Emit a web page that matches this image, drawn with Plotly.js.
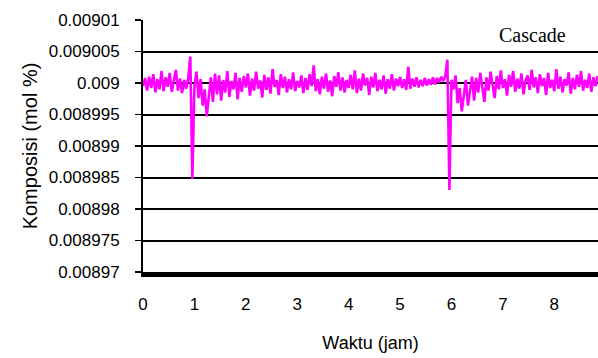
<!DOCTYPE html>
<html>
<head>
<meta charset="utf-8">
<script src="https://cdn.plot.ly/plotly-3.0.1.min.js"></script>
<style>html,body{margin:0;padding:0;background:#fff;}#chart{width:598px;height:358px;}</style>
</head>
<body>
<div id="chart"></div>
<script>
// Time step (jam) between samples, starting at 0
const timeStart = 0;
const timeStep = 0.04;

// Komposisi (mol %)
const komposisi = [
  0.0089995, 0.0090008, 0.0089988, 0.009001, 0.0089992, 0.0090014, 0.0089985, 0.0090006, 0.008999, 0.0090019,
  0.0089987, 0.0090009, 0.0089994, 0.0090016, 0.0089986, 0.0090004, 0.0090021, 0.0089988, 0.0090007, 0.0089984,
  0.0090005, 0.0089991,
  0.0090008, 0.0090042, 0.0089848, 0.0089995,
  0.0090018, 0.0089976, 0.0090006, 0.0089964, 0.008999, 0.0089947, 0.008998, 0.0090009, 0.008997, 0.0090015,
  0.0089982, 0.0090012, 0.0089972, 0.0090005, 0.0089985, 0.0090019, 0.0089978, 0.0090003, 0.008999, 0.0090016,
  0.0089974, 0.0090008, 0.0089986, 0.0090011, 0.0089993,
  0.0090015, 0.008998, 0.0090007, 0.0089988, 0.0090018, 0.0089991, 0.0090004, 0.0089977, 0.0090013, 0.0089989,
  0.0090009, 0.0089983, 0.0090022, 0.0089994, 0.0090005, 0.0089981, 0.0090014, 0.0089992, 0.009001, 0.0089985,
  0.0090006, 0.008999, 0.0090017, 0.0089987, 0.0090003,
  0.0089993, 0.0090012, 0.0089984, 0.0090008, 0.0089989, 0.0090014, 0.0089995, 0.0090028, 0.0089987, 0.0090006,
  0.0089982, 0.009001, 0.0089991, 0.0090015, 0.0089986, 0.0090004, 0.0089979, 0.0090011, 0.0089994, 0.0090017,
  0.0089988, 0.0090009, 0.0089985, 0.0090005, 0.0089992,
  0.0090013, 0.008999, 0.009002, 0.0089984, 0.0090007, 0.0089988, 0.0090015, 0.0089996, 0.0090008, 0.0089981,
  0.009001, 0.0089993, 0.0090016, 0.0089987, 0.0090005, 0.008999, 0.0090012, 0.0089983, 0.0090006, 0.0089991,
  0.0090014, 0.0089988, 0.0090007, 0.0089995, 0.009001,
  0.0089992, 0.0090006, 0.0089989, 0.0090026, 0.0089991, 0.0090007, 0.0089994, 0.0090009, 0.0089993, 0.0090005,
  0.0089995, 0.0090008, 0.0089996, 0.0090006, 0.0089997, 0.0090009, 0.0089998, 0.0090008, 0.0090001, 0.009001,
  0.0090003, 0.0090011,
  0.0090037, 0.008983, 0.0090005,
  0.008999, 0.0090012, 0.0089968, 0.0089992, 0.0089955, 0.008998, 0.0090005, 0.0089964, 0.0089988, 0.009001,
  0.0089972, 0.0090008, 0.0089985, 0.0090016, 0.0089993, 0.008997, 0.0090009, 0.0089988, 0.0090018, 0.0089995,
  0.0089976, 0.0090011, 0.008999, 0.009002, 0.0089992, 0.0090006, 0.008998, 0.0090013, 0.0089994, 0.0090019,
  0.0089986, 0.0090007, 0.0089991, 0.0090015, 0.0089982, 0.0090004, 0.0090012, 0.0089989, 0.0090021, 0.0089993,
  0.0090009, 0.0089984, 0.0090014, 0.0089995, 0.0090008, 0.0089981, 0.0090016, 0.0089992, 0.0090005, 0.0089987,
  0.0090022, 0.0089991, 0.009001, 0.0089985, 0.0090006, 0.0089996, 0.0090017, 0.0089983, 0.0090008, 0.008999,
  0.0090013, 0.0089994, 0.0090019, 0.0089988, 0.0090005, 0.0089992, 0.0090015, 0.0089986, 0.0090009, 0.0089995,
  0.0090011
];

const yTickVals = [0.00897, 0.008975, 0.00898, 0.008985, 0.00899, 0.008995, 0.009, 0.009005, 0.00901];
const yTickText = ["0.00897", "0.008975", "0.00898", "0.008985", "0.00899", "0.008995", "0.009", "0.009005", "0.00901"];
const xTickVals = [0, 1, 2, 3, 4, 5, 6, 7, 8];
const xTickText = ["0", "1", "2", "3", "4", "5", "6", "7", "8"];

const trace = {
  type: 'scatter',
  mode: 'lines',
  x0: timeStart,
  dx: timeStep,
  y: komposisi,
  line: {color: '#ff00ff', width: 2.6},
  hoverinfo: 'none'
};

const layout = {
  width: 598,
  height: 358,
  margin: {l: 143, r: 0, t: 20, b: 86},
  paper_bgcolor: '#ffffff',
  plot_bgcolor: '#ffffff',
  showlegend: false,
  font: {family: 'Liberation Sans, Arial, sans-serif', color: '#000000', size: 17},
  xaxis: {
    range: [0, 8.85],
    tickvals: xTickVals,
    ticktext: xTickText,
    ticks: '',
    showgrid: false,
    zeroline: false,
    showline: true,
    linecolor: '#000000',
    linewidth: 5,
    ticklabelstandoff: 13,
    tickfont: {size: 17},
    title: {text: 'Waktu (jam)', font: {size: 18}, standoff: 24}
  },
  yaxis: {
    range: [0.00897, 0.00901],
    tickvals: yTickVals,
    ticktext: yTickText,
    ticks: 'outside',
    ticklen: 6,
    tickwidth: 1.5,
    tickcolor: '#000000',
    showgrid: true,
    gridcolor: '#000000',
    gridwidth: 2,
    zeroline: false,
    showline: true,
    linecolor: '#000000',
    linewidth: 2,
    ticklabelstandoff: 12,
    tickfont: {size: 17},
    title: {text: 'Komposisi (mol %)', font: {size: 20}, standoff: 6}
  },
  annotations: [{
    text: 'Cascade',
    xref: 'paper', yref: 'paper',
    x: 0.855, y: 0.94,
    xanchor: 'center', yanchor: 'middle',
    showarrow: false,
    font: {family: 'Liberation Serif, Times New Roman, serif', size: 20, color: '#000000'}
  }]
};

Plotly.newPlot('chart', [trace], layout, {staticPlot: true, displayModeBar: false});
</script>
</body>
</html>
